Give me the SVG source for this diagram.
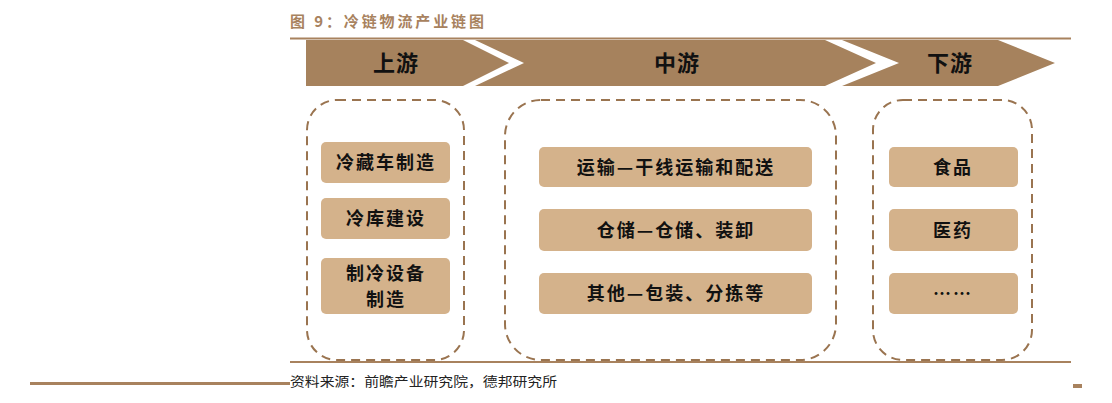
<svg xmlns="http://www.w3.org/2000/svg" width="1112" height="403" viewBox="0 0 1112 403">
<style>
.band{fill:#A6825D}
.cont{fill:none;stroke:#9A7450;stroke-width:2;stroke-dasharray:9 6}
.box{fill:#D4B28B}
.hd{font-family:"Noto Sans CJK SC",sans-serif;font-size:22px;font-weight:700;fill:#111;text-anchor:middle;letter-spacing:1px}
.lb{font-family:"Noto Sans CJK SC",sans-serif;font-size:18px;font-weight:700;fill:#111;text-anchor:middle;letter-spacing:2px}
.rule{stroke:#A8825E;stroke-width:2}
</style>
<rect width="1112" height="403" fill="#fff"/>
<text x="290" y="27" font-family="Noto Sans CJK SC,sans-serif" font-size="15" font-weight="700" fill="#A8825E" textLength="194" lengthAdjust="spacing">图 9：冷链物流产业链图</text>
<line class="rule" x1="290" y1="38.5" x2="1071" y2="38.5"/>
<g id="stage-up">
<polygon class="band" points="306,40 463,40 509,63 463,86 306,86"/>
<text class="hd" x="396" y="71">上游</text>
</g>
<g id="stage-mid">
<polygon class="band" points="475,40 825,40 876,63 825,86 475,86 524,63"/>
<text class="hd" x="677" y="71">中游</text>
</g>
<g id="stage-down">
<polygon class="band" points="842,40 998,40 1055,63 998,86 842,86 899,63"/>
<text class="hd" x="950" y="71">下游</text>
</g>
<g id="upstream">
<rect class="cont" x="307" y="100" width="157" height="260" rx="30"/>
<g id="n1"><rect class="box" x="321" y="142" width="129" height="41" rx="5"/><text class="lb" x="386" y="169">冷藏车制造</text></g>
<g id="n2"><rect class="box" x="321" y="198" width="129" height="41" rx="5"/><text class="lb" x="386" y="225">冷库建设</text></g>
<g id="n3"><rect class="box" x="321" y="258" width="129" height="56" rx="5"/><text class="lb" x="386" y="280">制冷设备</text><text class="lb" x="386" y="306">制造</text></g>
</g>
<g id="midstream">
<rect class="cont" x="505" y="100" width="331" height="260" rx="36"/>
<g id="n4"><rect class="box" x="539" y="147" width="273" height="40" rx="5"/><text class="lb" x="676" y="174">运输—干线运输和配送</text></g>
<g id="n5"><rect class="box" x="539" y="209" width="273" height="42" rx="5"/><text class="lb" x="676" y="237">仓储—仓储、装卸</text></g>
<g id="n6"><rect class="box" x="539" y="273" width="273" height="41" rx="5"/><text class="lb" x="676" y="300">其他—包装、分拣等</text></g>
</g>
<g id="downstream">
<rect class="cont" x="873" y="100" width="159" height="260" rx="30"/>
<g id="n7"><rect class="box" x="889" y="147" width="129" height="40" rx="5"/><text class="lb" x="953" y="174">食品</text></g>
<g id="n8"><rect class="box" x="889" y="209" width="129" height="42" rx="5"/><text class="lb" x="953" y="237">医药</text></g>
<g id="n9"><rect class="box" x="889" y="273" width="129" height="41" rx="5"/><text class="lb" x="953" y="300">……</text></g>
</g>
<g id="connectors"></g>
<line class="rule" x1="290" y1="362" x2="1071" y2="362"/>
<line x1="30" y1="383.5" x2="290" y2="383.5" stroke="#A8825E" stroke-width="3"/>
<text x="290" y="386" font-family="Noto Sans CJK SC,sans-serif" font-size="13" fill="#222" textLength="267" lengthAdjust="spacingAndGlyphs">资料来源：前瞻产业研究院，德邦研究所</text>
<rect x="1073" y="384" width="9" height="4" fill="#A8825E"/>
</svg>
